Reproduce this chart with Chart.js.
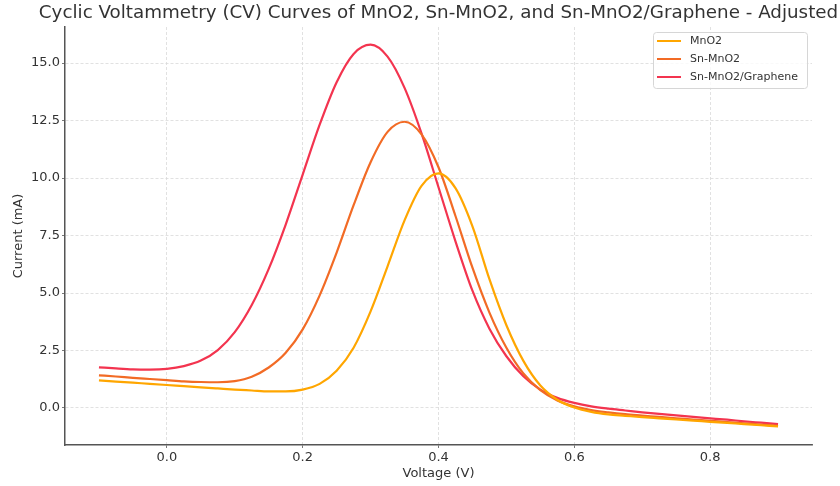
<!DOCTYPE html>
<html>
<head>
<meta charset="utf-8">
<script src="https://cdn.jsdelivr.net/npm/chart.js@4"></script>
<style>
  html, body { margin: 0; padding: 0; background: #fff; }
</style>
</head>
<body>
<canvas id="cvChart" width="840" height="486"></canvas>
<script>
// Voltage (V) sampled along the sweep
const voltage = [-0.1, -0.075, -0.05, -0.025, 0, 0.025, 0.05, 0.075, 0.1, 0.125, 0.15, 0.175, 0.2,
  0.225, 0.25, 0.275, 0.3, 0.325, 0.35, 0.375, 0.4, 0.425, 0.45, 0.475, 0.5, 0.525, 0.55, 0.575,
  0.6, 0.625, 0.65, 0.675, 0.7, 0.725, 0.75, 0.775, 0.8, 0.825, 0.85, 0.875, 0.9];

// Current (mA)
const mno2 = [1.20, 1.15, 1.10, 1.05, 1.00, 0.95, 0.90, 0.85, 0.80, 0.76, 0.72, 0.72, 0.80,
  1.05, 1.62, 2.62, 4.20, 6.16, 8.16, 9.66, 10.20, 9.56, 7.90, 5.60, 3.60, 2.05, 0.98, 0.36,
  0.02, -0.17, -0.28, -0.34, -0.40, -0.45, -0.50, -0.55, -0.60, -0.65, -0.70, -0.75, -0.80];
const snMno2 = [1.42, 1.37, 1.31, 1.26, 1.21, 1.16, 1.13, 1.12, 1.17, 1.36, 1.76, 2.40, 3.42,
  4.90, 6.76, 8.82, 10.69, 12.01, 12.45, 11.90, 10.47, 8.35, 6.10, 4.15, 2.62, 1.50, 0.78, 0.33,
  0.07, -0.09, -0.19, -0.27, -0.33, -0.39, -0.45, -0.50, -0.56, -0.61, -0.67, -0.72, -0.78];
const snMno2Graphene = [1.77, 1.72, 1.68, 1.67, 1.70, 1.82, 2.06, 2.52, 3.30, 4.48, 6.05, 7.98, 10.15,
  12.32, 14.17, 15.40, 15.80, 15.28, 13.92, 11.94, 9.60, 7.25, 5.10, 3.45, 2.25, 1.38, 0.80, 0.44,
  0.22, 0.07, -0.03, -0.11, -0.19, -0.26, -0.32, -0.39, -0.45, -0.51, -0.58, -0.64, -0.70];

const seriesNames = ['MnO2', 'Sn-MnO2', 'Sn-MnO2/Graphene'];
const xTicks = [0, 0.2, 0.4, 0.6, 0.8];
const yTicks = [0, 2.5, 5, 7.5, 10, 12.5, 15];

const colors = ['#ffa600', '#f26b25', '#f3344f'];
const font = 'DejaVu Sans';
const textColor = '#333333';

function points(ys) {
  return voltage.map((v, i) => ({ x: v, y: ys[i] }));
}

// title, axis titles and the boxed legend inside the plot
const extras = {
  id: 'extras',
  afterDraw(chart) {
    const c = chart.ctx;
    const a = chart.chartArea;
    c.save();
    c.fillStyle = textColor;
    c.textAlign = 'center';
    c.textBaseline = 'middle';
    c.font = '18.3px "' + font + '"';
    c.fillText('Cyclic Voltammetry (CV) Curves of MnO2, Sn-MnO2, and Sn-MnO2/Graphene - Adjusted', (a.left + a.right) / 2, 13);
    c.font = '13px "' + font + '"';
    c.fillText('Voltage (V)', (a.left + a.right) / 2, 474);
    c.save();
    c.translate(19, (a.top + a.bottom) / 2);
    c.rotate(-Math.PI / 2);
    c.fillText('Current (mA)', 0, 0);
    c.restore();

    // legend
    const bx = 653, by = 32, bw = 154, bh = 56;
    c.beginPath();
    c.roundRect(bx + 0.5, by + 0.5, bw, bh, 3);
    c.fillStyle = 'rgba(255,255,255,0.8)';
    c.fill();
    c.strokeStyle = '#d6d6d6';
    c.lineWidth = 1;
    c.stroke();
    c.font = '11px "' + font + '"';
    c.textAlign = 'left';
    chart.data.datasets.forEach((ds, i) => {
      const y = 41 + i * 18;
      c.strokeStyle = ds.borderColor;
      c.lineWidth = 2;
      c.beginPath();
      c.moveTo(657, y);
      c.lineTo(681, y);
      c.stroke();
      c.fillStyle = textColor;
      c.fillText(ds.label, 690, y);
    });
    c.restore();
  }
};

new Chart(document.getElementById('cvChart'), {
  type: 'line',
  data: {
    datasets: [
      { label: seriesNames[0], data: points(mno2), borderColor: colors[0] },
      { label: seriesNames[1], data: points(snMno2), borderColor: colors[1] },
      { label: seriesNames[2], data: points(snMno2Graphene), borderColor: colors[2] }
    ]
  },
  options: {
    responsive: false,
    animation: false,
    layout: { padding: { top: 27, right: 28, left: 0, bottom: 0 } },
    elements: {
      point: { radius: 0 },
      line: { borderWidth: 2.2, cubicInterpolationMode: 'monotone', fill: false }
    },
    plugins: {
      legend: { display: false },
      title: { display: false },
      tooltip: { enabled: false }
    },
    scales: {
      x: {
        type: 'linear',
        min: -0.15,
        max: 0.95,
        afterFit: s => { s.height = 41; },
        afterBuildTicks: s => { s.ticks = xTicks.map(v => ({ value: v })); },
        ticks: {
          color: textColor,
          font: { family: font, size: 13 },
          padding: 2,
          maxRotation: 0,
          callback: v => v.toFixed(1)
        },
        grid: { color: '#d9d9d9', lineWidth: 0.8, drawTicks: true, tickLength: 3, tickColor: '#555' },
        border: { display: true, color: '#555', width: 1.5, dash: [3, 2] }
      },
      y: {
        type: 'linear',
        min: -1.61,
        max: 16.57,
        afterFit: s => { s.width = 65; },
        afterBuildTicks: s => { s.ticks = yTicks.map(v => ({ value: v })); },
        ticks: {
          color: textColor,
          font: { family: font, size: 13 },
          padding: 2,
          callback: v => v.toFixed(1)
        },
        grid: { color: '#d9d9d9', lineWidth: 0.8, drawTicks: true, tickLength: 3, tickColor: '#555' },
        border: { display: true, color: '#555', width: 1.5, dash: [3, 2] }
      }
    }
  },
  plugins: [extras]
});
</script>
</body>
</html>
